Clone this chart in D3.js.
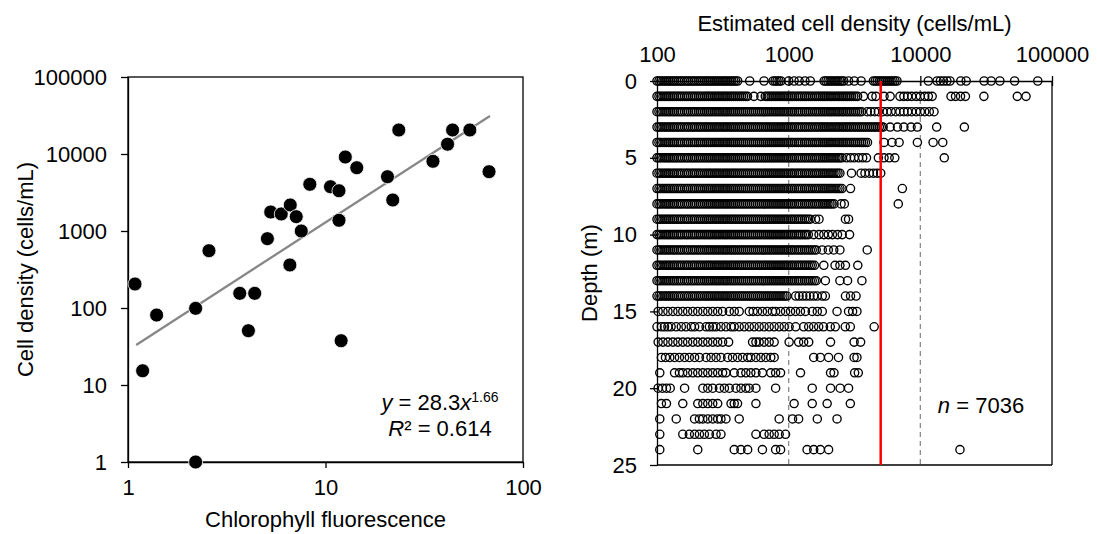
<!DOCTYPE html>
<html>
<head>
<meta charset="utf-8">
<script src="https://cdn.jsdelivr.net/npm/d3@7"></script>
<style>
  body { margin: 0; background: #fff; }
  text { font-family: "Liberation Sans", Arial, sans-serif; font-size: 22px; fill: #000; }
</style>
</head>
<body>
<svg id="chart" width="1097" height="534"></svg>
<script>
// Left panel: chlorophyll fluorescence vs cell density
const chlFluor = [2.57, 5.08, 5.28, 5.97, 6.63, 7.11, 7.54, 6.60, 8.33, 10.6, 11.7, 12.6, 14.4, 11.7, 20.6, 21.9,
  23.5, 35.0, 41.5, 44.0, 53.8, 67.3, 1.085, 1.396, 2.20, 3.68, 4.38, 4.07, 1.186, 12.0, 2.20];
const cellDens = [555, 795, 1765, 1665, 2178, 1535, 1000, 362, 4040, 3760, 3335, 9140, 6640, 1377, 5070, 2528,
  20500, 8040, 13400, 20500, 20500, 5890, 205, 81, 99, 155, 155, 50.7, 15.3, 37.6, 1];
const fitA = 28.3, fitB = 1.66, fitR2 = "0.614";
const fitRange = [1.1, 68];
const leftXTicks = [1, 10, 100];
const leftYTicks = [1, 10, 100, 1000, 10000, 100000];

// Right panel: estimated cell density by depth
const depths = [0, 1, 2, 3, 4, 5, 6, 7, 8, 9, 10, 11, 12, 13, 14, 15, 16, 17, 18, 19, 20, 21, 22, 23, 24];
const densityLevels = [100, 103.5, 107, 111, 115, 119, 123, 127, 132, 136, 141, 146, 151, 156, 162, 168, 173, 180,
  186, 192, 199, 206, 213, 221, 229, 237, 245, 253, 262, 272, 281, 291, 301, 312, 323, 334, 345, 358, 370, 383,
  396, 410, 425, 440, 455, 471, 487, 504, 522, 540, 559, 579, 599, 620, 642, 664, 687, 711, 736, 762, 789, 816,
  845, 874, 905, 937, 969, 1000, 1040, 1070, 1110, 1150, 1190, 1230, 1270, 1320, 1360, 1410, 1460, 1510, 1570,
  1620, 1680, 1740, 1800, 1860, 1920, 1990, 2060, 2130, 2210, 2290, 2370, 2450, 2540, 2620, 2720, 2810, 2910,
  3010, 3120, 3230, 3340, 3460, 3580, 3700, 3830, 3970, 4110, 4250, 4400, 4550, 4710, 4880, 5050, 5220, 5410,
  5600, 5790, 6000, 6200, 6420, 6650, 6880];
// ranges of densityLevels that are fully occupied at each depth
const denseBands = [
  [[100, 420], [760, 900], [1850, 2650], [4400, 6800]],
  [[100, 500], [650, 3400]],
  [[100, 3600]], [[100, 5400]], [[100, 4000]], [[100, 2550]], [[100, 2450]], [[100, 2600]],
  [[100, 2250]], [[100, 1500]], [[100, 1450]], [[100, 1650]], [[100, 1600]], [[100, 1650]], [[100, 980]],
  [], [], [], [], [], [], [], [], [], []
];
// single observations outside the dense bands
const sparseCells = [
  [506, 650, 1000, 1100, 1200, 1330, 1460, 2850, 3150, 3550, 11500, 13400, 14200, 15000, 15900, 16800, 20300, 22300, 30500, 34500, 40200, 52000, 78000],
  [545, 615, 3700, 4300, 4600, 5300, 5900, 7000, 7500, 8000, 8600, 9300, 10000, 10800, 11500, 12300, 17100, 18500, 20200, 22000, 30400, 54500, 63500],
  [3950, 4200, 4500, 4800, 5200, 5600, 6000, 6500, 7000, 7500, 8000, 8600, 9300, 10000, 10800, 11700, 12700],
  [5900, 6700, 7500, 8500, 9500, 13300, 21600],
  [5300, 6100, 6900, 9500, 12500, 14800],
  [2750, 2950, 3150, 3400, 3650, 3900, 4800, 5300, 5800, 6400, 15200],
  [3000, 3550, 3800, 4100, 4400, 4700, 5000],
  [2950, 7300],
  [2500, 2650, 6800],
  [1600, 1700, 2700, 2850],
  [1550, 1700, 1850, 2000, 2150, 2350, 2550, 2900],
  [1800, 2000, 2200, 2450, 3950],
  [1850, 2250, 2450, 2700, 3350],
  [1900, 2450, 2800, 3600],
  [1130, 1200, 1280, 1360, 1450, 1550, 1650, 1800, 1900, 2700, 2950, 3250],
  [102, 111, 121, 132, 144, 157, 171, 187, 204, 223, 243, 265, 289, 315, 354, 386, 421, 502, 537, 580, 632, 688, 752, 796, 868, 947, 1033, 1127, 1229, 1340, 1510, 1650, 1800, 2330, 2850, 3060, 3300],
  [100, 108, 114, 121, 128, 140, 153, 166, 182, 193, 210, 236, 250, 265, 281, 306, 334, 365, 386, 421, 460, 502, 547, 597, 651, 711, 776, 847, 924, 1008, 1130, 1300, 1420, 1550, 1690, 1840, 2070, 2260, 2690, 2940, 4460],
  [102, 111, 121, 132, 144, 157, 171, 187, 204, 223, 243, 265, 289, 315, 350, 532, 564, 597, 651, 711, 776, 1008, 1190, 1300, 1420, 2080, 3140, 3520],
  [108, 116, 125, 136, 148, 162, 176, 193, 210, 236, 257, 281, 306, 344, 375, 409, 447, 488, 516, 564, 615, 671, 731, 776, 1550, 1740, 2010, 2390, 3140, 3300],
  [105, 136, 148, 157, 171, 187, 204, 223, 243, 265, 289, 315, 334, 386, 434, 473, 516, 564, 632, 731, 796, 868, 1230, 2080, 2210, 3170, 3380],
  [102, 110, 118, 126, 162, 223, 243, 265, 298, 325, 354, 398, 434, 473, 502, 564, 796, 1510, 2080, 2460, 2850],
  [108, 118, 157, 204, 223, 243, 265, 289, 365, 386, 409, 564, 1100, 1510, 1960, 2940],
  [105, 140, 193, 210, 223, 243, 265, 289, 306, 334, 421, 847, 1070, 1190, 1650, 2330],
  [105, 157, 176, 193, 210, 229, 250, 281, 306, 564, 651, 711, 776, 847, 947],
  [105, 204, 386, 434, 488, 632, 796, 868, 1380, 1550, 1740, 2010, 20000]
];
const rightXTicks = [100, 1000, 10000, 100000];
const rightYTicks = [0, 5, 10, 15, 20, 25];
const guideLines = [1000, 10000];
const threshold = 5000;
const nObs = 7036;

const svg = d3.select("#chart");
const fmt = d3.format("d");

// ---------- left panel ----------
const xL = d3.scaleLog().domain([1, 100]).range([128, 523]);
const yL = d3.scaleLog().domain([1, 100000]).range([462, 77]);

const left = svg.append("g");

left.append("rect")
    .attr("x", xL(1)).attr("y", yL(100000))
    .attr("width", xL(100) - xL(1)).attr("height", yL(1) - yL(100000))
    .attr("fill", "none").attr("stroke", "#000").attr("stroke-width", 1.3);

left.append("g")
    .attr("transform", `translate(0,${yL(1)})`)
    .call(d3.axisBottom(xL).tickValues(leftXTicks).tickFormat(fmt).tickSize(6).tickSizeOuter(0).tickPadding(11))
    .call(g => g.selectAll("line,path").attr("stroke", "#000").attr("stroke-width", 1.3));

left.append("g")
    .attr("transform", `translate(${xL(1)},0)`)
    .call(d3.axisLeft(yL).tickValues(leftYTicks).tickFormat(fmt).tickSize(7).tickSizeOuter(0).tickPadding(14))
    .call(g => g.selectAll("line,path").attr("stroke", "#000").attr("stroke-width", 1.3));

// power fit, straight in log-log
left.append("path")
    .datum(fitRange)
    .attr("fill", "none")
    .attr("stroke", "#878787")
    .attr("stroke-width", 2.3)
    .attr("d", d3.line().x(d => xL(d)).y(d => yL(fitA * Math.pow(d, fitB))));

left.append("g")
    .selectAll("circle")
    .data(chlFluor.map((x, i) => [x, cellDens[i]]))
    .join("circle")
    .attr("cx", d => xL(d[0]))
    .attr("cy", d => yL(d[1]))
    .attr("r", 7)
    .attr("fill", "#000")
    .attr("stroke", "#fff")
    .attr("stroke-width", 0.8);

const eq = left.append("text").attr("x", 440).attr("y", 410).attr("text-anchor", "middle");
eq.append("tspan").attr("font-style", "italic").text("y");
eq.append("tspan").text(` = ${fitA}`);
eq.append("tspan").attr("font-style", "italic").text("x");
eq.append("tspan").attr("dy", -8).style("font-size", "14px").text(fitB);

const r2 = left.append("text").attr("x", 440).attr("y", 436).attr("text-anchor", "middle");
r2.append("tspan").attr("font-style", "italic").text("R");
r2.append("tspan").text(`² = ${fitR2}`);

left.append("text")
    .attr("x", xL(10)).attr("y", 527)
    .attr("text-anchor", "middle")
    .text("Chlorophyll fluorescence");

left.append("text")
    .attr("transform", `translate(33,${(yL(1) + yL(100000)) / 2}) rotate(-90)`)
    .attr("text-anchor", "middle")
    .text("Cell density (cells/mL)");

// ---------- right panel ----------
const xR = d3.scaleLog().domain([100, 100000]).range([657, 1052]);
const yR = d3.scaleLinear().domain([0, 25]).range([81, 465]);

const right = svg.append("g");

// grey dashed reference lines
right.append("g")
    .selectAll("line")
    .data(guideLines)
    .join("line")
    .attr("x1", d => xR(d)).attr("x2", d => xR(d))
    .attr("y1", yR(0)).attr("y2", yR(25))
    .attr("stroke", "#8c8c8c")
    .attr("stroke-width", 1.3)
    .attr("stroke-dasharray", "5,4");

// points: occupied levels inside each band plus the single observations
const cells = depths.flatMap((dep, i) => {
  const inBand = densityLevels.filter(v => denseBands[i].some(b => v >= b[0] && v <= b[1]));
  return inBand.concat(sparseCells[i]).map(v => ({ depth: dep, value: v }));
});

right.append("g")
    .selectAll("circle")
    .data(cells)
    .join("circle")
    .attr("cx", d => xR(d.value))
    .attr("cy", d => yR(d.depth))
    .attr("r", 4.1)
    .attr("fill", "none")
    .attr("stroke", "#000")
    .attr("stroke-width", 1.35);

// frame: right and bottom edges
right.append("line")
    .attr("x1", xR(100000)).attr("x2", xR(100000))
    .attr("y1", yR(0)).attr("y2", yR(25))
    .attr("stroke", "#000").attr("stroke-width", 1.3);
right.append("line")
    .attr("x1", xR(100)).attr("x2", xR(100000))
    .attr("y1", yR(25)).attr("y2", yR(25))
    .attr("stroke", "#000").attr("stroke-width", 1.3);

right.append("g")
    .attr("transform", `translate(0,${yR(0)})`)
    .call(d3.axisTop(xR).tickValues(rightXTicks).tickFormat(fmt).tickSize(5).tickSizeOuter(0).tickPadding(14))
    .call(g => g.selectAll(".tick line").attr("y1", 5))
    .call(g => g.selectAll("line,path").attr("stroke", "#000").attr("stroke-width", 1.3));

right.append("g")
    .attr("transform", `translate(${xR(100)},0)`)
    .call(d3.axisLeft(yR).tickValues(rightYTicks).tickSize(7).tickSizeOuter(0).tickPadding(13))
    .call(g => g.selectAll("line,path").attr("stroke", "#000").attr("stroke-width", 1.3));

// red threshold line
right.append("line")
    .attr("x1", xR(threshold)).attr("x2", xR(threshold))
    .attr("y1", yR(0)).attr("y2", yR(25))
    .attr("stroke", "#ff0000")
    .attr("stroke-width", 2.5);

const nLab = right.append("text").attr("x", 981).attr("y", 413).attr("text-anchor", "middle");
nLab.append("tspan").attr("font-style", "italic").text("n");
nLab.append("tspan").text(` = ${nObs}`);

right.append("text")
    .attr("x", (xR(100) + xR(100000)) / 2).attr("y", 31)
    .attr("text-anchor", "middle")
    .text("Estimated cell density (cells/mL)");

right.append("text")
    .attr("transform", `translate(597,${(yR(0) + yR(25)) / 2}) rotate(-90)`)
    .attr("text-anchor", "middle")
    .text("Depth (m)");
</script>
</body>
</html>
